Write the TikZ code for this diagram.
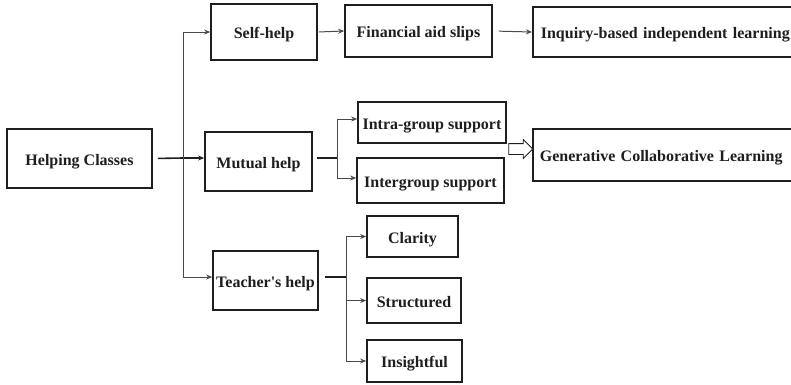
\documentclass[tikz,border=0pt]{standalone}
\usepackage{fontspec}
\setmainfont{Liberation Serif}
\newfontfamily\rawserif{Liberation Serif}[Ligatures=TeXOff]
\usetikzlibrary{arrows.meta,shapes.arrows,calc}
\definecolor{boxline}{HTML}{1E1E1E}
\definecolor{conn}{HTML}{4A4A4A}
\tikzset{
  box/.style={draw=boxline, line width=1.7pt, inner sep=0pt, text=boxline,
    text height=14pt, text depth=1pt,
    font=\fontsize{16}{18}\selectfont\bfseries},
  thin/.style={draw=conn, line width=1pt},
  stub/.style={draw=boxline, line width=1.6pt},
  tip/.style={-{Stealth[length=6pt,width=5pt]}},
}
\begin{document}
\begin{tikzpicture}[x=1pt,y=-1pt]
\useasboundingbox (0,0) rectangle (791,384);
\clip (0,0) rectangle (791,384);
% boxes
\node[box, minimum width=145, minimum height=59] (hc) at (79.5,158.5) {Helping Classes};
\node[box, minimum width=106, minimum height=56] (self) at (264,32) {Self-help};
\node[box, minimum width=147, minimum height=52] (fin) at (418.5,31) {Financial aid slips};
\node[box, minimum height=50, anchor=west, inner xsep=8pt, text width=256pt, align=left] (inq) at (532,32) {Inquiry-based independent learning};
\node[box, minimum width=107, minimum height=59] (mutual) at (258.5,161.5) {Mutual help};
\node[box, minimum width=148, minimum height=41] (intra) at (432,122.5) {Intra-group support};
\node[box, minimum width=147, minimum height=45] (inter) at (430.5,180.5) {Intergroup support};
\node[box, minimum height=52, anchor=west, inner xsep=7pt, text width=256pt, align=left] (gen) at (532,155) {Generative Collaborative Learning};
\node[box, minimum width=105, minimum height=59] (teacher) at (265.5,280.5) {{\rawserif\bfseries Teacher's help}};
\node[box, minimum width=91, minimum height=41] (clarity) at (412.5,236.5) {Clarity};
\node[box, minimum width=94, minimum height=45] (struct) at (414,300.5) {Structured};
\node[box, minimum width=95, minimum height=42] (insight) at (414.5,361) {Insightful};
% hollow arrow
\node[single arrow, draw=boxline, line width=0.8pt, fill=white, inner sep=5pt,
  minimum height=24pt, minimum width=18pt, single arrow head extend=4pt,
  single arrow head indent=0pt] (harrow) at (518,149) {};
% junction coordinates
\coordinate (tr) at (183,158);
\coordinate (mj) at (337,158);
\coordinate (tj) at (346,277);
% Helping classes
\draw[stub, shorten <=5pt] (hc.east) -- (tr);
\draw[stub, line width=1.3pt, tip] (tr) -- (tr -| mutual.west);
\draw[thin] (tr |- self) -- (tr |- tj);
\draw[thin, tip] (tr |- self) -- (self.west);
\draw[thin, tip] (tr |- tj) -- (teacher.west |- tj);
% self-help chain
\draw[thin, tip, shorten <=1pt] (self.east) -- (fin.west);
\draw[thin, tip, shorten <=6pt] (fin.east) -- (inq.west);
% mutual help
\draw[stub, shorten <=4pt] (mutual.east |- mj) -- (mj);
\draw[thin] (mj |- 0,119) -- (mj |- 0,178);
\draw[thin, tip] (mj |- 0,119) -- (intra.west |- 0,119);
\draw[thin, tip] (mj |- 0,178) -- (inter.west |- 0,178);
% teacher's help
\draw[stub, shorten <=6pt] (teacher.east |- tj) -- (tj);
\draw[thin] (tj |- clarity) -- (tj |- insight);
\draw[thin, tip] (tj |- clarity) -- (clarity.west);
\draw[thin, tip] (tj |- struct) -- (struct.west);
\draw[thin, tip] (tj |- insight) -- (insight.west);
\end{tikzpicture}
\end{document}
